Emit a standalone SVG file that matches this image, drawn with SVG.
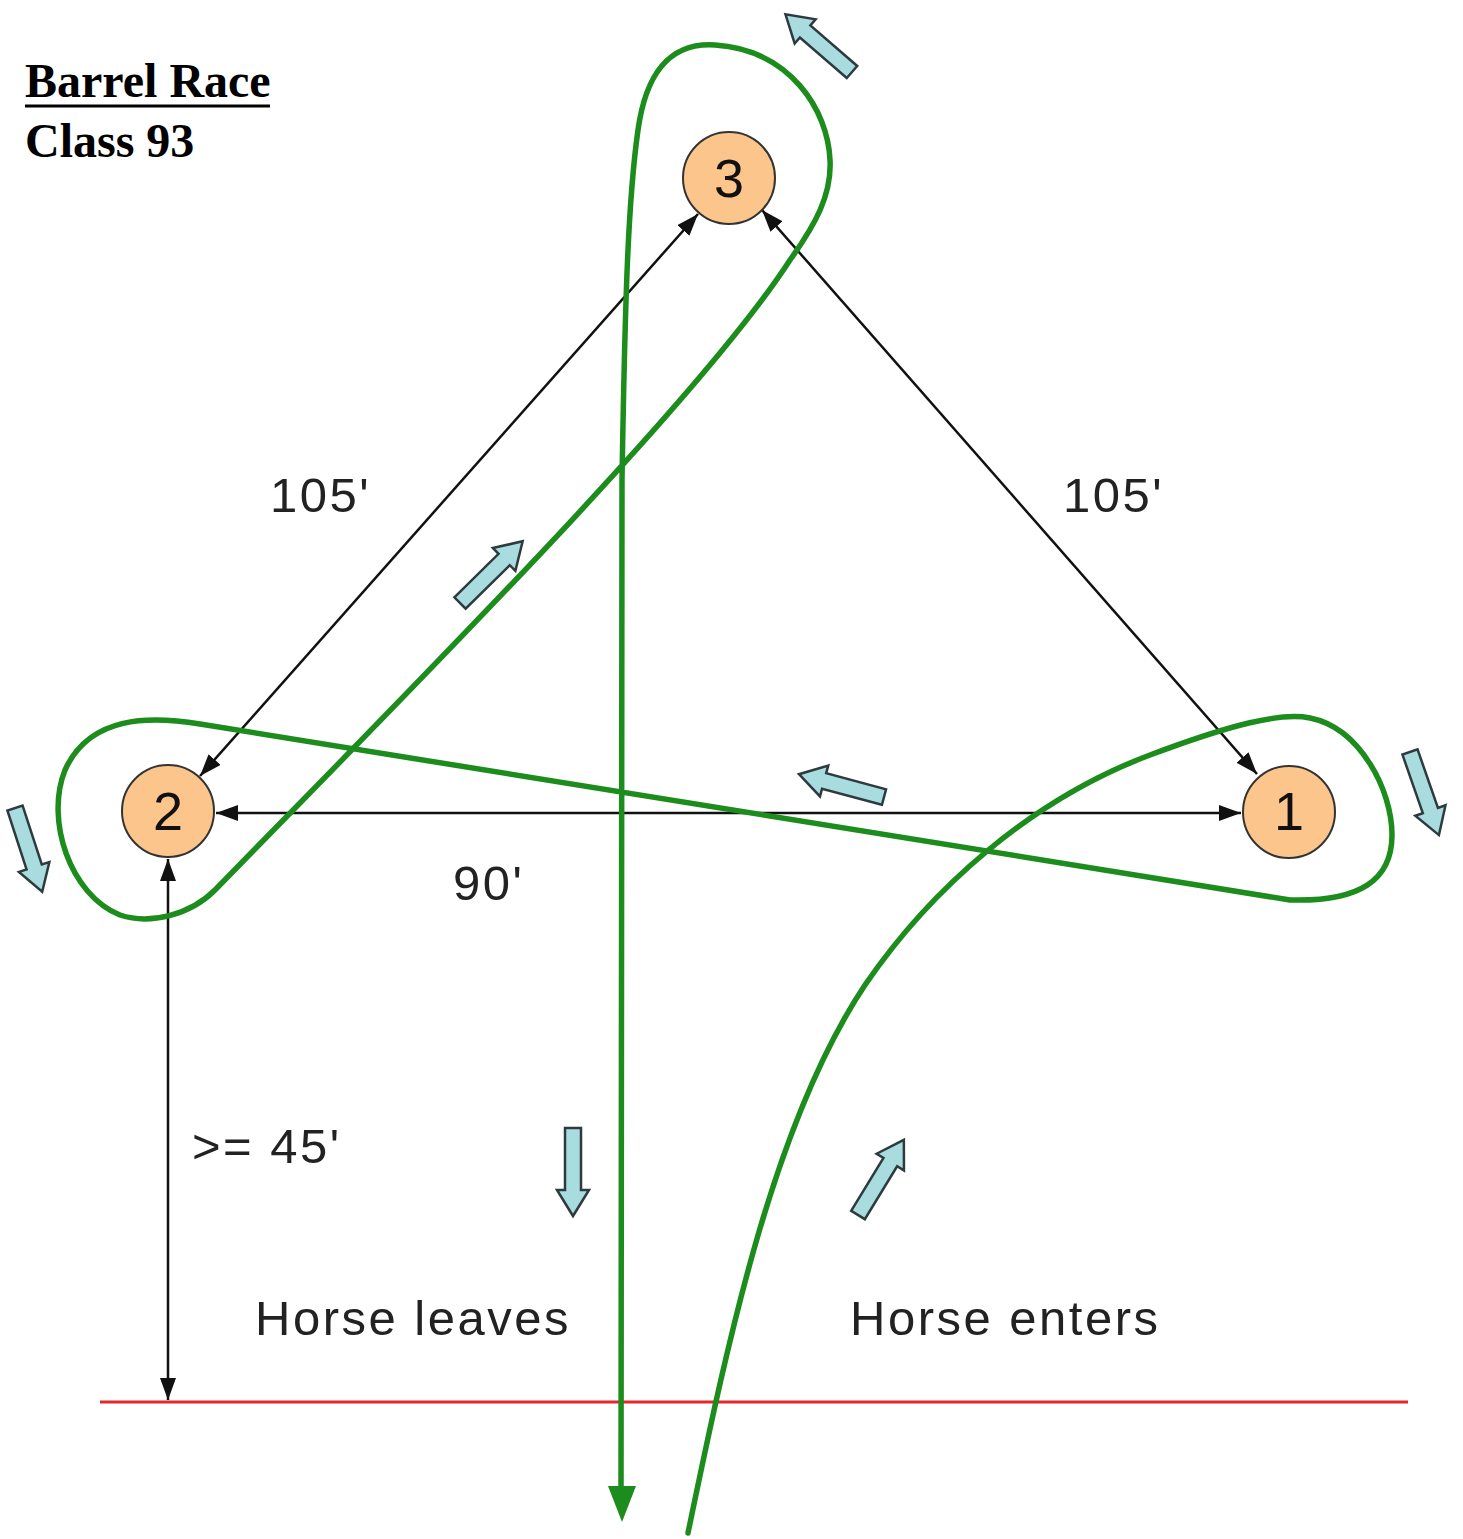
<svg xmlns="http://www.w3.org/2000/svg" width="1463" height="1539" viewBox="0 0 1463 1539">
<style>
.title{font-family:"Liberation Serif","Times New Roman",serif;font-weight:bold;font-size:48px;fill:#000}
.lbl{font-family:"Liberation Sans",Arial,sans-serif;font-size:49px;fill:#222;letter-spacing:2.5px}
.num{font-family:"Liberation Sans",Arial,sans-serif;font-size:54px;fill:#111;text-anchor:middle}
.barrel{fill:#fcc58c;stroke:#333;stroke-width:2}
.dim{stroke:#111;stroke-width:2.5;fill:none;marker-start:url(#ah);marker-end:url(#ah)}
.path{stroke:#1c8c1c;stroke-width:5.5;fill:none;stroke-linejoin:round;stroke-linecap:round}
.dir{fill:#a9dcdf;stroke:#2e3b3e;stroke-width:2.5;stroke-linejoin:miter}
</style>
<defs>
<marker id="ah" viewBox="0 0 22 16" markerWidth="22" markerHeight="16" refX="22" refY="8" markerUnits="userSpaceOnUse" orient="auto-start-reverse">
<path d="M0,0 L22,8 L0,16 Z" fill="#111"/>
</marker>
<path id="blk" d="M0,-8 L62,-8 L62,-16 L88,0 L62,16 L62,8 L0,8 Z"/>
</defs>
<rect width="1463" height="1539" fill="#fff"/>
<g id="title">
<text class="title" x="25" y="97">Barrel Race</text>
<line x1="25" y1="106" x2="270" y2="106" stroke="#000" stroke-width="3"/>
<text class="title" x="25" y="157">Class 93</text>
</g>
<g id="boundary">
<line x1="100" y1="1402" x2="1408" y2="1402" stroke="#e5262a" stroke-width="3"/>
</g>
<g id="connectors">
<line class="dim" x1="698" y1="214" x2="200" y2="776"/>
<line class="dim" x1="762" y1="210" x2="1257" y2="774"/>
<line class="dim" x1="216" y1="813" x2="1241" y2="813"/>
<line class="dim" x1="168" y1="859" x2="168" y2="1400"/>
</g>
<g id="route">
<path class="path" d="M688,1533 C730,1330 775,1120 865,985 C930,890 1030,800 1150,755 C1230,725 1280,712 1310,718 C1360,728 1392,790 1392,835 C1392,880 1360,902 1290,900 L200,724 C150,716 90,715 65,770 C45,820 70,895 120,915 C150,925 190,915 215,890 C400,700 700,400 790,260 C815,225 832,195 830,160 C828,110 790,50 715,45 C665,42 645,80 638,130 C628,200 625,300 622,480 L621,1495"/>
<polygon points="608,1486 636,1486 622,1522" fill="#1c8c1c"/>
</g>
<g id="direction-arrows">
<use href="#blk" class="dir" transform="translate(852,72) rotate(220.9)"/>
<use href="#blk" class="dir" transform="translate(15,808) rotate(72)"/>
<use href="#blk" class="dir" transform="translate(1410,752) rotate(70.8)"/>
<use href="#blk" class="dir" transform="translate(460,603) rotate(-44.6)"/>
<use href="#blk" class="dir" transform="translate(884,797) rotate(195)"/>
<use href="#blk" class="dir" transform="translate(573,1128) rotate(90)"/>
<use href="#blk" class="dir" transform="translate(858,1215) rotate(-58.6)"/>
</g>
<g id="barrel-3">
<circle class="barrel" cx="729" cy="178" r="46"/>
<text class="num" x="729" y="197">3</text>
</g>
<g id="barrel-2">
<circle class="barrel" cx="168" cy="811" r="46"/>
<text class="num" x="168" y="830">2</text>
</g>
<g id="barrel-1">
<circle class="barrel" cx="1289" cy="812" r="46"/>
<text class="num" x="1289" y="830">1</text>
</g>
<g id="labels">
<text class="lbl" x="270" y="512">105'</text>
<text class="lbl" x="1063" y="512">105'</text>
<text class="lbl" x="453" y="900">90'</text>
<text class="lbl" x="192" y="1163">&gt;= 45'</text>
<text class="lbl" x="255" y="1335">Horse leaves</text>
<text class="lbl" x="850" y="1335">Horse enters</text>
</g>
</svg>
